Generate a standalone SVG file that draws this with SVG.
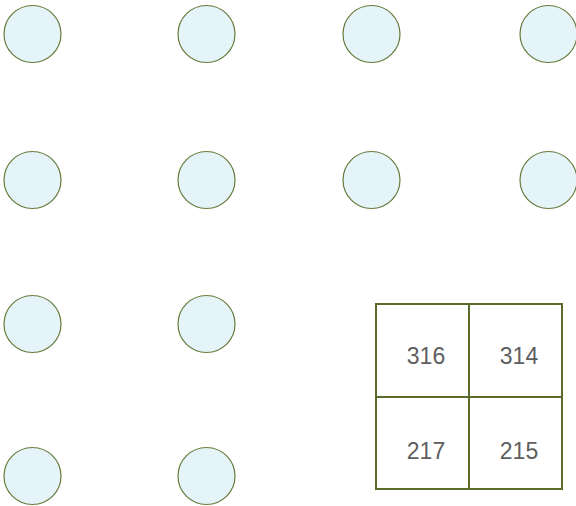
<svg xmlns="http://www.w3.org/2000/svg" width="576" height="506" viewBox="0 0 576 506">
<style>
.c{fill:#e4f4f8;stroke:#667a3a;stroke-width:1.2}
.g{fill:#ffffff;stroke:#5a6b2b;stroke-width:2}
.t{font-family:"Liberation Sans",Arial,sans-serif;font-size:23px;fill:#5e5e5e;text-anchor:middle}
</style>
<g id="nodes">
<g id="n1"><circle class="c" cx="32.5" cy="34" r="28.5"/></g>
<g id="n2"><circle class="c" cx="206.5" cy="34" r="28.5"/></g>
<g id="n3"><circle class="c" cx="371.5" cy="34" r="28.5"/></g>
<g id="n4"><circle class="c" cx="548.5" cy="34" r="28.5"/></g>
<g id="n5"><circle class="c" cx="32.5" cy="180" r="28.5"/></g>
<g id="n6"><circle class="c" cx="206.5" cy="180" r="28.5"/></g>
<g id="n7"><circle class="c" cx="371.5" cy="180" r="28.5"/></g>
<g id="n8"><circle class="c" cx="548.5" cy="180" r="28.5"/></g>
<g id="n9"><circle class="c" cx="32.5" cy="324" r="28.5"/></g>
<g id="n10"><circle class="c" cx="206.5" cy="324" r="28.5"/></g>
<g id="n11"><circle class="c" cx="32.5" cy="476" r="28.5"/></g>
<g id="n12"><circle class="c" cx="206.5" cy="476" r="28.5"/></g>
</g>
<g id="grid">
<g id="cell316"><rect class="g" x="376" y="304" width="93" height="93"/><text class="t" x="426" y="364">316</text></g>
<g id="cell314"><rect class="g" x="469" y="304" width="93" height="93"/><text class="t" x="519" y="364">314</text></g>
<g id="cell217"><rect class="g" x="376" y="397" width="93" height="92"/><text class="t" x="426" y="459">217</text></g>
<g id="cell215"><rect class="g" x="469" y="397" width="93" height="92"/><text class="t" x="519" y="459">215</text></g>
</g>
<g id="connectors"/>
</svg>
